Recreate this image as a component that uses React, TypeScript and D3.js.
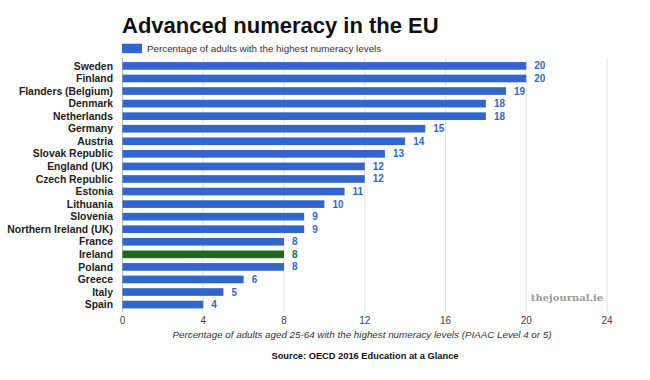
import React from "react";
import * as d3 from "d3";

const countries = [
  "Sweden", "Finland", "Flanders (Belgium)", "Denmark", "Netherlands", "Germany",
  "Austria", "Slovak Republic", "England (UK)", "Czech Republic", "Estonia",
  "Lithuania", "Slovenia", "Northern Ireland (UK)", "France", "Ireland",
  "Poland", "Greece", "Italy", "Spain",
];
const values = [20, 20, 19, 18, 18, 15, 14, 13, 12, 12, 11, 10, 9, 9, 8, 8, 8, 6, 5, 4];
const ticks = [0, 4, 8, 12, 16, 20, 24];
const highlight = "Ireland";

const title = "Advanced numeracy in the EU";
const legendLabel = "Percentage of adults with the highest numeracy levels";
const axisTitle = "Percentage of adults aged 25-64 with the highest numeracy levels (PIAAC Level 4 or 5)";
const source = "Source: OECD 2016 Education at a Glance";

const BLUE = "#3366cc";
const GREEN = "#1c6b1c";

export default function App() {
  const W = 650, H = 380;
  const x = d3.scaleLinear().domain([0, 24]).range([122.5, 607]);
  const y = d3.scaleBand().domain(countries).range([59.7, 310.8]).paddingInner(0.39).paddingOuter(0.19);
  const font = "Arial, 'Liberation Sans', Helvetica, sans-serif";
  return (
    <svg width={W} height={H} style={{ position: "absolute", left: 0, top: 0, background: "#fff" }} fontFamily={font}>
      <rect width={W} height={H} fill="#fff" />
      <text x={122} y={33} fontSize={22} fontWeight="bold" fill="#111">{title}</text>
      <rect x={122} y={43.7} width={20} height={9.5} fill={BLUE} />
      <text x={147} y={52} fontSize={9.8} fill="#333">{legendLabel}</text>
      {ticks.map((t) => (
        <g key={t}>
          <line x1={x(t)} x2={x(t)} y1={58} y2={312} stroke={t === 0 ? "#bbb" : "#e3e3e3"} strokeWidth={1} />
          <text x={x(t)} y={324} fontSize={10} fill="#444" textAnchor="middle">{t}</text>
        </g>
      ))}
      {countries.map((c, i) => {
        const yy = y(c)!;
        const bw = y.bandwidth();
        const col = c === highlight ? GREEN : BLUE;
        return (
          <g key={c}>
            <rect x={x(0)} y={yy} width={x(values[i]) - x(0)} height={bw} fill={col} />
            <text x={113} y={yy + bw / 2} dy="0.35em" fontSize={10.4} fontWeight="bold" fill="#222" textAnchor="end">{c}</text>
            <text x={x(values[i]) + 8} y={yy + bw / 2} dy="0.35em" fontSize={10} fontWeight="bold" fill={col}>{values[i]}</text>
          </g>
        );
      })}
      <text x={567} y={301} fontSize={10} fontWeight="bold" fill="#999" textAnchor="middle" fontFamily="'DejaVu Serif', 'Liberation Serif', serif">thejournal.ie</text>
      <text x={362} y={338} fontSize={9.8} fontStyle="italic" fill="#333" textAnchor="middle">{axisTitle}</text>
      <text x={365} y={359} fontSize={9.3} fontWeight="bold" fill="#111" textAnchor="middle">{source}</text>
    </svg>
  );
}
